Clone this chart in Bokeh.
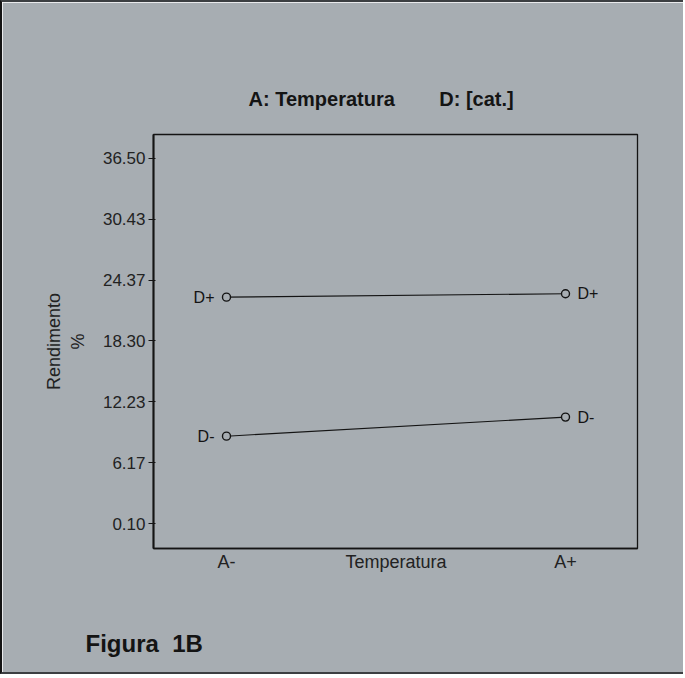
from bokeh.plotting import figure
from bokeh.models import Range1d, FixedTicker, Title
from bokeh.embed import file_html
from bokeh.resources import INLINE
from bokeh.core.properties import value

# ---- data ----
temp_levels = ["A-", "A+"]
temp_x = [0, 1]
d_plus = [22.67, 23.01]
d_minus = [8.81, 10.71]
series_names = ["D+", "D-"]
y_ticks = [0.10, 6.17, 12.23, 18.30, 24.37, 30.43, 36.50]
y_tick_labels = ["0.10", "6.17", "12.23", "18.30", "24.37", "30.43", "36.50"]
x_title = "Temperatura"
y_title = "Rendimento\n%"
chart_title = "A: Temperatura"
chart_subtitle = "D: [cat.]"
figure_caption = "Figura 1B"

BG = "#a7adb2"
INK = "#141414"
FONT = "Liberation Sans"
NBSP = "\u00a0"

p = figure(width=683, height=674, output_backend="svg", toolbar_location=None,
           x_range=Range1d(-0.2153, 1.2124), y_range=Range1d(-2.39, 38.89),
           min_border_left=151, min_border_right=48, min_border_top=132,
           min_border_bottom=128)

p.background_fill_color = BG
p.border_fill_color = BG
p.outline_line_color = INK
p.outline_line_width = 1.3
p.grid.visible = False
p.styles = {"border-left": "2px solid #141414",
            "border-top": "2px solid #3c3f42",
            "border-bottom": "2px solid #3c3f42"}

p.title = Title(text=chart_title + NBSP * 8 + chart_subtitle, align="left",
                offset=95, standoff=50,
                text_font=FONT, text_font_size="20px", text_font_style="bold",
                text_color=INK)

# y axis
yax = p.yaxis[0]
yax.ticker = FixedTicker(ticks=y_ticks)
yax.major_label_overrides = {t: l for t, l in zip(y_ticks, y_tick_labels)}
yax.major_tick_in = 2
yax.major_tick_out = 5
yax.minor_tick_line_color = None
yax.major_tick_line_color = INK
yax.axis_line_color = INK
yax.axis_line_width = 2
yax.major_label_standoff = 3
yax.major_label_text_font = FONT
yax.major_label_text_font_size = "17px"
yax.major_label_text_color = "#222222"
yax.axis_label = y_title
yax.axis_label_text_font = FONT
yax.axis_label_text_font_size = "18px"
yax.axis_label_text_font_style = "normal"
yax.axis_label_text_color = "#222222"
yax.axis_label_standoff = 12

# x axis: level labels plus the factor name between them
xax = p.xaxis[0]
xax.ticker = FixedTicker(ticks=[temp_x[0], 0.5, temp_x[1]])
xax.major_label_overrides = {temp_x[0]: temp_levels[0], 0.5: x_title, temp_x[1]: temp_levels[1]}
xax.major_tick_line_color = None
xax.minor_tick_line_color = None
xax.axis_line_color = INK
xax.axis_line_width = 1.3
xax.major_label_standoff = -3
xax.major_label_text_font = FONT
xax.major_label_text_font_size = "18px"
xax.major_label_text_color = "#222222"

# empty gap between the axis and the caption, then the caption
p.add_layout(Title(text=NBSP, standoff=48, text_font_size="2px"), "below")
p.add_layout(Title(text=figure_caption.replace(" ", NBSP * 2), align="left",
                   offset=-68, standoff=2,
                   text_font=FONT, text_font_size="24px", text_font_style="bold",
                   text_color=INK), "below")

# lines and points
for ys, name in zip([d_plus, d_minus], series_names):
    p.line(temp_x, ys, line_color=INK, line_width=1.1)
    p.scatter(temp_x, ys, marker="circle", size=8, fill_color=BG,
              line_color=INK, line_width=1.4)
    p.text(x=[temp_x[0]], y=[ys[0]], text=[name], x_offset=-12,
           text_align="right", text_baseline="middle",
           text_font=value(FONT), text_font_size="16px", text_color=INK)
    p.text(x=[temp_x[1]], y=[ys[1]], text=[name], x_offset=12,
           text_align="left", text_baseline="middle",
           text_font=value(FONT), text_font_size="16px", text_color=INK)

open("out.html", "w").write(file_html(p, INLINE))
